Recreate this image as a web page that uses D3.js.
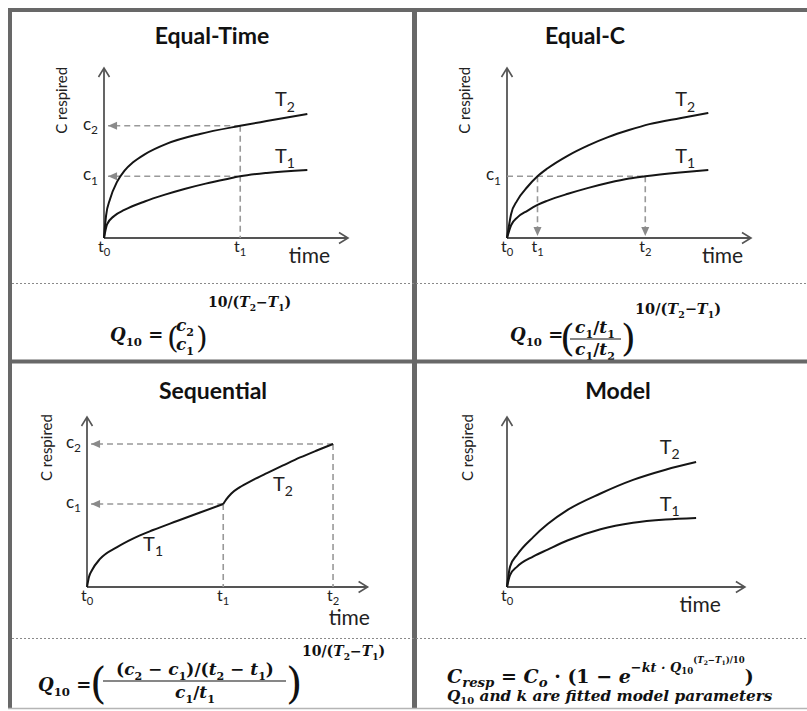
<!DOCTYPE html>
<html>
<head>
<meta charset="utf-8">
<script src="https://cdn.jsdelivr.net/npm/d3@7"></script>
<style>
  body { margin: 0; background: #fff; }
  svg { display: block; }
  .title { font-family: Lato, sans-serif; font-weight: bold; font-size: 23px; fill: #111; text-anchor: middle; }
  .lbl { font-family: Lato, sans-serif; fill: #222; }
  .math { font-family: "DejaVu Serif", serif; font-style: italic; font-weight: bold; fill: #111; }
  .paren { font-family: "DejaVu Serif", serif; font-weight: normal; fill: #111; }
</style>
</head>
<body>
<div id="chart"></div>
<script>
// ---- data (time units, C units) ----
var eqTimeT1 = [[0,0],[0.15,0.8],[0.5,1.3],[1,1.65],[2,2.15],[3,2.55],[4,2.9],[5,3.2],[6,3.46],[6.7,3.63],[8,3.83],[10,4.0]];
var eqTimeT2 = [[0,0],[0.1,1.3],[0.3,2.3],[0.64,3.3],[1,3.95],[1.43,4.45],[2,4.92],[3.1,5.55],[4.72,6.12],[6.7,6.6],[8,6.88],[10,7.3]];
var eqTimeMarks = { t1: 6.7, c1: 3.63, c2: 6.6 };

var eqCT1 = [[0,0],[0.2,0.75],[0.5,1.2],[1,1.6],[1.5,1.95],[2,2.2],[3,2.6],[4,2.95],[5,3.25],[6,3.5],[6.8,3.63],[8.5,3.85],[9.9,4.0]];
var eqCT2 = [[0,0],[0.2,1.4],[0.5,2.2],[1,3.0],[1.5,3.63],[2,4.1],[3,4.85],[4,5.45],[5,5.95],[6,6.35],[7,6.7],[8.5,7.05],[9.9,7.35]];
var eqCMarks = { t1: 1.5, t2: 6.8, c1: 3.63 };

var seqT1 = [[0,0],[0.1,0.6],[0.25,1.0],[0.64,1.65],[1.48,2.35],[2.26,2.85],[3.25,3.35],[4.43,3.88],[5.56,4.38],[6.7,4.88]];
var seqT2 = [[6.7,4.88],[6.85,5.15],[7.1,5.5],[7.5,5.86],[8.17,6.3],[8.85,6.7],[9.64,7.15],[10.48,7.62],[11.3,8.03],[12.1,8.41]];
var seqMarks = { t1: 6.7, t2: 12.1, c1: 4.88, c2: 8.41 };

var modelT1 = [[0,0],[0.15,0.7],[0.5,1.2],[1.3,1.8],[2,2.2],[3,2.75],[4.6,3.4],[6.2,3.78],[7.8,3.97],[9.3,4.06]];
var modelT2 = [[0,0],[0.15,1.2],[0.5,1.9],[1.3,2.95],[2,3.7],[3,4.55],[4.6,5.5],[6.2,6.3],[7.8,6.9],[9.3,7.35]];

var titles = ['Equal-Time', 'Equal-C', 'Sequential', 'Model'];

// ---- svg ----
var W = 807, H = 711;
var svg = d3.select('#chart').append('svg')
  .attr('width', W)
  .attr('height', H);

var defs = svg.append('defs');
defs.append('marker')
  .attr('id', 'axisArrow')
  .attr('markerUnits', 'userSpaceOnUse')
  .attr('viewBox', '-12 -8 14 16')
  .attr('markerWidth', 14).attr('markerHeight', 16)
  .attr('refX', 0).attr('refY', 0)
  .attr('orient', 'auto')
  .append('path')
  .attr('d', 'M-9,-5.5L0,0L-9,5.5')
  .attr('fill', 'none').attr('stroke', '#555').attr('stroke-width', 1.6);
defs.append('marker')
  .attr('id', 'dashArrow')
  .attr('markerUnits', 'userSpaceOnUse')
  .attr('viewBox', '-12 -8 14 16')
  .attr('markerWidth', 14).attr('markerHeight', 16)
  .attr('refX', 0).attr('refY', 0)
  .attr('orient', 'auto')
  .append('path')
  .attr('d', 'M-9,-4L0,0L-9,4Z')
  .attr('fill', '#8a8a8a');

// shared scales: 1 time unit ~ 20.3px, 1 C unit = 17px
var x = d3.scaleLinear().domain([0, 12]).range([0, 244]);
var y = d3.scaleLinear().domain([0, 10]).range([0, -170]);
var line = d3.line()
  .x(d => x(d[0]))
  .y(d => y(d[1]))
  .curve(d3.curveMonotoneX);

function sublabel(g, px, py, main, sub, size, anchor) {
  var t = g.append('text').attr('class', 'lbl')
    .attr('x', px).attr('y', py)
    .attr('text-anchor', anchor || 'middle')
    .style('font-size', size + 'px');
  t.append('tspan').text(main);
  t.append('tspan').attr('dy', size * 0.26).style('font-size', (size * 0.7) + 'px').text(sub);
  return t;
}

function panel(ox, oy, xEnd, title, tx, ty) {
  svg.append('text').attr('class', 'title').attr('x', tx).attr('y', ty).text(title);
  var g = svg.append('g').attr('transform', 'translate(' + ox + ',' + oy + ')');
  g.append('line')
    .attr('x1', x(0)).attr('y1', y(0)).attr('x2', x(xEnd)).attr('y2', y(0))
    .attr('stroke', '#555').attr('stroke-width', 1.8)
    .attr('marker-end', 'url(#axisArrow)');
  g.append('line')
    .attr('x1', x(0)).attr('y1', y(0)).attr('x2', x(0)).attr('y2', y(10))
    .attr('stroke', '#555').attr('stroke-width', 1.8)
    .attr('marker-end', 'url(#axisArrow)');
  return g;
}

function dash(g, a, b, arrow) {
  var l = g.append('line')
    .attr('x1', x(a[0])).attr('y1', y(a[1]))
    .attr('x2', x(b[0])).attr('y2', y(b[1]))
    .attr('stroke', '#999').attr('stroke-width', 1.6)
    .attr('stroke-dasharray', '6,4');
  if (arrow) l.attr('marker-end', 'url(#dashArrow)');
}

function curve(g, data) {
  g.append('path').datum(data)
    .attr('d', line)
    .attr('fill', 'none')
    .attr('stroke', '#151515')
    .attr('stroke-width', 2);
}

function yTitle(g, dx, c) {
  g.append('text').attr('class', 'lbl')
    .attr('transform', 'translate(' + dx + ',' + y(c) + ') rotate(-90)')
    .attr('text-anchor', 'middle')
    .attr('dy', '0.35em')
    .style('font-size', '15px')
    .text('C respired');
}

function timeLabel(g, t, dy) {
  g.append('text').attr('class', 'lbl')
    .attr('x', x(t)).attr('y', dy)
    .attr('text-anchor', 'middle')
    .style('font-size', '21px')
    .text('time');
}

function tLabel(g, t, sub) { sublabel(g, x(t), 14, 't', sub, 16, 'middle'); }
function cLabel(g, c, sub) { sublabel(g, -6, y(c) + 4, 'c', sub, 17, 'end'); }
function TLabel(g, t, c, sub) { sublabel(g, x(t), y(c) + 6, 'T', sub, 20, 'middle'); }

// ---- panel A: Equal-Time ----
var gA = panel(104, 238, 12, titles[0], 212, 44);
dash(gA, [eqTimeMarks.t1, eqTimeMarks.c2], [0.2, eqTimeMarks.c2], true);
dash(gA, [eqTimeMarks.t1, eqTimeMarks.c1], [0.2, eqTimeMarks.c1], true);
dash(gA, [eqTimeMarks.t1, eqTimeMarks.c2], [eqTimeMarks.t1, 0]);
curve(gA, eqTimeT1);
curve(gA, eqTimeT2);
cLabel(gA, eqTimeMarks.c2, '2');
cLabel(gA, eqTimeMarks.c1, '1');
tLabel(gA, 0, '0');
tLabel(gA, eqTimeMarks.t1, '1');
TLabel(gA, 8.9, 8.1, '2');
TLabel(gA, 8.9, 4.76, '1');
timeLabel(gA, 10.1, 25);
yTitle(gA, -42, 8.1);

// ---- panel B: Equal-C ----
var gB = panel(507, 238, 12, titles[1], 585, 44);
dash(gB, [0, eqCMarks.c1], [eqCMarks.t2, eqCMarks.c1]);
dash(gB, [eqCMarks.t1, eqCMarks.c1], [eqCMarks.t1, 0.12], true);
dash(gB, [eqCMarks.t2, eqCMarks.c1], [eqCMarks.t2, 0.12], true);
curve(gB, eqCT1);
curve(gB, eqCT2);
cLabel(gB, eqCMarks.c1, '1');
tLabel(gB, 0, '0');
tLabel(gB, eqCMarks.t1, '1');
tLabel(gB, eqCMarks.t2, '2');
TLabel(gB, 8.76, 8.1, '2');
TLabel(gB, 8.76, 4.76, '1');
timeLabel(gB, 10.6, 25);
yTitle(gB, -42, 8.1);

// ---- panel C: Sequential ----
var gC = panel(87, 587, 13.8, titles[2], 213, 399);
dash(gC, [seqMarks.t2, seqMarks.c2], [0.2, seqMarks.c2], true);
dash(gC, [seqMarks.t1, seqMarks.c1], [0.2, seqMarks.c1], true);
dash(gC, [seqMarks.t1, seqMarks.c1], [seqMarks.t1, 0]);
dash(gC, [seqMarks.t2, seqMarks.c2], [seqMarks.t2, 0]);
curve(gC, seqT1);
curve(gC, seqT2);
cLabel(gC, seqMarks.c2, '2');
cLabel(gC, seqMarks.c1, '1');
tLabel(gC, 0, '0');
tLabel(gC, seqMarks.t1, '1');
tLabel(gC, seqMarks.t2, '2');
TLabel(gC, 9.64, 6.0, '2');
TLabel(gC, 3.25, 2.47, '1');
timeLabel(gC, 12.9, 38);
yTitle(gC, -40, 8.2);

// ---- panel D: Model ----
var gD = panel(507, 587, 11.7, titles[3], 618, 399);
curve(gD, modelT1);
curve(gD, modelT2);
tLabel(gD, 0, '0');
TLabel(gD, 8.0, 8.18, '2');
TLabel(gD, 8.0, 4.82, '1');
timeLabel(gD, 9.5, 25);
yTitle(gD, -39, 8.2);

// ---- formulas ----
// parts: [text, shift(em, + down), scale, upright]
function mtext(px, py, parts, size, anchor) {
  var t = svg.append('text').attr('class', 'math')
    .attr('x', px).attr('y', py)
    .attr('text-anchor', anchor || 'start')
    .style('font-size', size + 'px');
  var cur = 0;
  parts.forEach(function (p) {
    var shift = (p[1] || 0) * size;
    var ts = t.append('tspan').attr('dy', shift - cur)
      .style('font-size', (p[2] || 1) * size + 'px')
      .text(p[0]);
    if (p[3]) ts.style('font-style', 'normal');
    cur = shift;
  });
  return t;
}
function paren(px, py, ch, size) {
  svg.append('text').attr('class', 'paren')
    .attr('x', px).attr('y', py)
    .style('font-size', size + 'px')
    .text(ch);
}
function bar(x1, x2, yy) {
  svg.append('line').attr('x1', x1).attr('x2', x2).attr('y1', yy).attr('y2', yy)
    .attr('stroke', '#111').attr('stroke-width', 1.2);
}
var expo = [['10/(', 0, 1, true], ['T', 0], ['2', 0.3, 0.65, true], ['−', 0, 1, true], ['T', 0], ['1', 0.3, 0.65, true], [')', 0, 1, true]];
var lhs = [['Q', 0], ['10', 0.3, 0.65, true], [' =', 0, 1, true]];

// A
mtext(110, 341, lhs, 18);
paren(167, 348, '(', 30);
mtext(185, 331, [['c', 0], ['2', 0.3, 0.65, true]], 17, 'middle');
mtext(185, 350, [['c', 0], ['1', 0.3, 0.65, true]], 17, 'middle');
paren(196, 348, ')', 30);
mtext(208, 307, expo, 14);

// B
mtext(510, 341, lhs, 18);
paren(560, 351, '(', 38);
mtext(595, 333, [['c', 0], ['1', 0.3, 0.65, true], ['/', 0, 1, true], ['t', 0], ['1', 0.3, 0.65, true]], 17, 'middle');
bar(570, 621, 339);
mtext(595, 355, [['c', 0], ['1', 0.3, 0.65, true], ['/', 0, 1, true], ['t', 0], ['2', 0.3, 0.65, true]], 17, 'middle');
paren(621, 351, ')', 38);
mtext(635, 314, expo, 14.5);

// C
mtext(38, 691, lhs, 18);
paren(90, 698, '(', 42);
mtext(195, 675, [['(', 0, 1, true], ['c', 0], ['2', 0.3, 0.65, true], [' − ', 0, 1, true], ['c', 0], ['1', 0.3, 0.65, true],
                 [')/(', 0, 1, true], ['t', 0], ['2', 0.3, 0.65, true], [' − ', 0, 1, true], ['t', 0], ['1', 0.3, 0.65, true], [')', 0, 1, true]], 17, 'middle');
bar(103, 286, 681);
mtext(195, 698, [['c', 0], ['1', 0.3, 0.65, true], ['/', 0, 1, true], ['t', 0], ['1', 0.3, 0.65, true]], 17, 'middle');
paren(286, 698, ')', 42);
mtext(302, 656, expo, 14);

// D
mtext(447, 683, [['C', 0], ['resp', 0.22, 0.7], [' = ', 0, 1, true], ['C', 0], ['o', 0.22, 0.7], [' · (1 − ', 0, 1, true], ['e', 0],
                 ['−kt · Q', -0.6, 0.68], ['10', -0.45, 0.45, true], ['(', -1.05, 0.45, true], ['T', -1.05, 0.45], ['2', -0.95, 0.32, true], ['−', -1.05, 0.45, true],
                 ['T', -1.05, 0.45], ['1', -0.95, 0.32, true], [')/10', -1.05, 0.45, true], [')', 0, 1, true]], 19);
mtext(447, 701, [['Q', 0], ['10', 0.22, 0.65, true], [' and k are fitted model parameters', 0]], 15.3);

// ---- frame ----
var frame = svg.append('g').attr('stroke', '#686868');
frame.append('line').attr('x1', 8).attr('x2', W).attr('y1', 10).attr('y2', 10).attr('stroke-width', 4);
frame.append('line').attr('x1', 10).attr('x2', 10).attr('y1', 8).attr('y2', 709).attr('stroke-width', 4);
frame.append('line').attr('x1', 414.5).attr('x2', 414.5).attr('y1', 8).attr('y2', 709).attr('stroke-width', 5);
frame.append('line').attr('x1', 8).attr('x2', W).attr('y1', 361.5).attr('y2', 361.5).attr('stroke-width', 4);
frame.append('line').attr('x1', 8).attr('x2', W).attr('y1', 708.5).attr('y2', 708.5).attr('stroke-width', 1.5).attr('stroke', '#b5b5b5');
var dots = svg.append('g').attr('stroke', '#8a8a8a').attr('stroke-width', 1).attr('stroke-dasharray', '2,2');
dots.append('line').attr('x1', 12).attr('x2', W).attr('y1', 283.5).attr('y2', 283.5);
dots.append('line').attr('x1', 12).attr('x2', W).attr('y1', 638.5).attr('y2', 638.5);
</script>
</body>
</html>
